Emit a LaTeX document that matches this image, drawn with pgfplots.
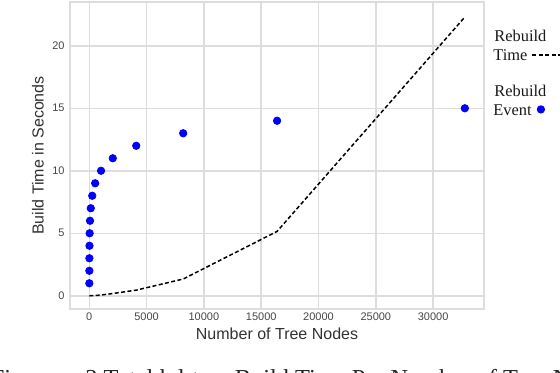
\documentclass[border=0pt]{standalone}
\usepackage{fontspec}
\setmainfont{Liberation Serif}
\setsansfont{Liberation Sans}
\usepackage{pgfplots}
\pgfplotsset{compat=1.18}
\definecolor{gridgray}{RGB}{221,221,221}
\definecolor{ticktext}{RGB}{70,70,70}
\definecolor{labeltext}{RGB}{50,50,50}
\definecolor{ptblue}{RGB}{0,0,255}
\pgfplotsset{
  mylineleg/.style={legend image code/.code={\path[draw=none,fill=none] (0pt,-3.75pt) (18pt,3.75pt);\draw[##1] (0pt,0.25pt) -- (18pt,0.25pt);}},
  mydotleg/.style={legend image code/.code={\path[draw=none,fill=none] (0pt,-3.75pt) (18pt,3.75pt);\draw[##1] plot coordinates {(4.25pt,0.6pt)};}},
}
\begin{document}
\begin{tikzpicture}
\useasboundingbox (0,0) rectangle (280pt,-186pt);
\begin{axis}[
  at={(35pt,-154.5pt)}, anchor=south west,
  scale only axis, width=207pt, height=153.5pt,
  xmin=-1684, xmax=34440, ymin=-1.06, ymax=23.5,
  xtick={0,5000,10000,15000,20000,25000,30000},
  ytick={0,5,10,15,20},
  scaled x ticks=false,
  /pgf/number format/1000 sep={},
  /pgf/number format/assume math mode=true,
  grid=major,
  major grid style={draw=gridgray, line width=0.75pt},
  axis line style={draw=gridgray, line width=0.75pt},
  tick style={draw=none},
  every tick label/.append style={font=\sffamily\fontsize{5.5}{6}\selectfont, text=ticktext, inner sep=0pt},
  xticklabel style={anchor=center, yshift=-3.85pt},
  yticklabel style={anchor=east, xshift=-2.5pt},
  xlabel={Number of Tree Nodes},
  ylabel={Build Time in Seconds},
  label style={font=\sffamily\fontsize{8}{9}\selectfont, text=labeltext},
  xlabel style={at={(axis description cs:0.5,-0.0814)}, anchor=center, inner sep=0pt},
  ylabel style={at={(axis description cs:-0.0773,0.5)}, anchor=center, inner sep=0pt},
  legend plot pos=right,
  legend cell align=left,
  legend style={
    at={(axis description cs:1.0217,0.9104)}, anchor=north west,
    draw=none, fill=none, inner sep=0pt,
    font=\rmfamily\fontsize{8.2}{9}\selectfont, text=black!90,
    nodes={inner sep=0pt, text height=6pt, text depth=1.5pt},
    row sep=1.65pt, column sep=0pt,
  },
]
\addlegendimage{empty legend}
\addlegendentry{\makebox[0pt][l]{Rebuild}}
\addplot[black, line width=0.75pt, dash pattern=on 2pt off 1.2pt, mylineleg]
  coordinates {
  (2,0.0) (4,0.0) (8,0.0) (16,0.0) (32,0.0) (64,0.0) (128,0.01) (256,0.01)
  (512,0.02) (1024,0.06) (2048,0.18) (4096,0.45) (8192,1.34) (16384,5.15) (32768,22.3)
  };
\addlegendentry{Time}
\addlegendimage{empty legend}
\addlegendentry{}
\addlegendimage{empty legend}
\addlegendentry{\makebox[0pt][l]{Rebuild}}
\addplot[only marks, mark=*, mark size=1.85pt, color=ptblue, fill=ptblue, mydotleg]
  coordinates {
  (2,1) (4,2) (8,3) (16,4) (32,5) (64,6) (128,7) (256,8) (512,9) (1024,10)
  (2048,11) (4096,12) (8192,13) (16384,14) (32768,15)
  };
\addlegendentry{Event}
\end{axis}
\node[font=\rmfamily\fontsize{12.2}{14}\selectfont, text=black!85, anchor=base east, inner sep=0pt] at (27.5pt,-193pt) {Figure};
\node[font=\rmfamily\fontsize{12.2}{14}\selectfont, text=black!85, anchor=base west, inner sep=0pt] at (42.5pt,-193pt) {3 Total kd-tree Build Time Per Number of Tree Nodes};
\end{tikzpicture}
\end{document}
